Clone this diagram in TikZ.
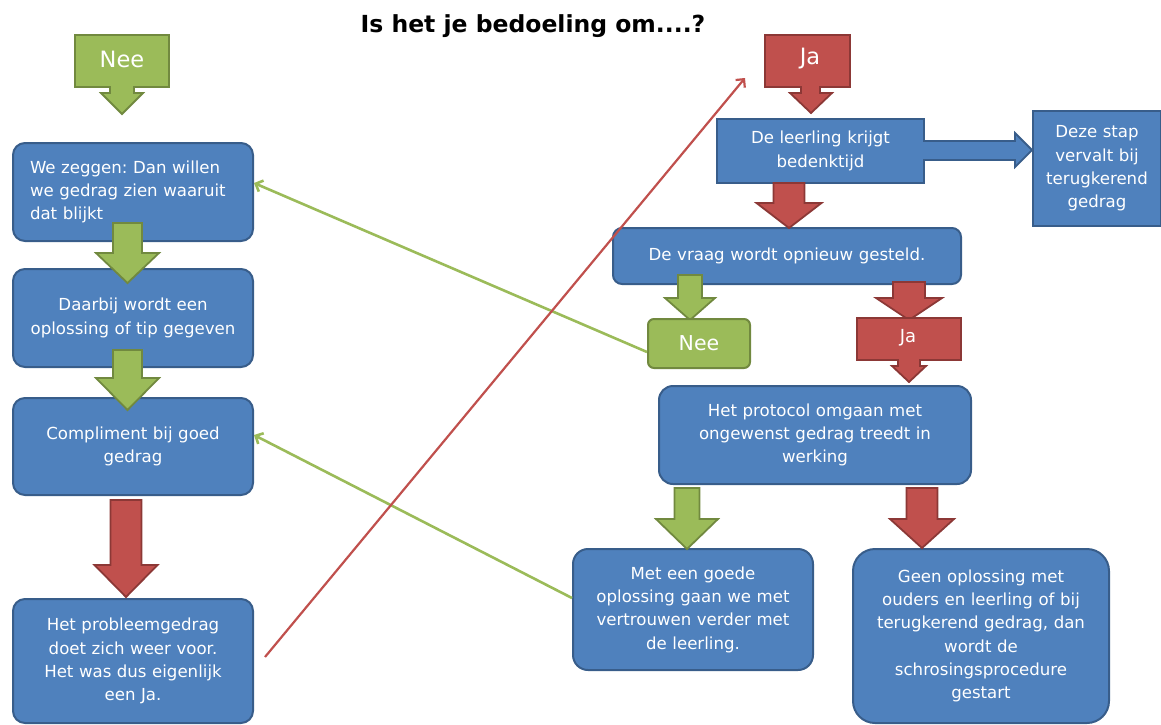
\documentclass[tikz,border=0pt]{standalone}
\usepackage{fontspec}
\setmainfont{DejaVu Sans}
\usetikzlibrary{arrows.meta,calc}
\definecolor{bfill}{HTML}{4F81BD}
\definecolor{bdraw}{HTML}{385D8A}
\definecolor{gfill}{HTML}{9BBB59}
\definecolor{gdraw}{HTML}{71893F}
\definecolor{rfill}{HTML}{C0504D}
\definecolor{rdraw}{HTML}{8C3836}
\newcommand\darr[7]{\path[#1] ({#2-#3},#5) -- ({#2+#3},#5) -- ({#2+#3},#6) -- ({#2+#4},#6) -- (#2,#7) -- ({#2-#4},#6) -- ({#2-#3},#6) -- cycle;}
\frenchspacing
\begin{document}
\begin{tikzpicture}[x=1pt,y=-1pt,
  box/.style={draw=bdraw, fill=bfill, line width=2pt, text=white, align=center, inner sep=0pt, anchor=north west, font=\fontsize{16.6}{23.3}\selectfont},
  rbox/.style={box, rounded corners=12pt},
  lbl/.style={text=white, inner sep=0pt},
  garr/.style={draw=gdraw, fill=gfill, line width=1.8pt},
  rarr/.style={draw=rdraw, fill=rfill, line width=1.8pt},
  gline/.style={draw=gfill, line width=2.6pt, -{Straight Barb[length=6pt,width=12pt]}},
  rline/.style={draw=rfill, line width=2.2pt, -{Straight Barb[length=6pt,width=12pt]}},
]
\useasboundingbox (0,0) rectangle (1161,724);

% title
\node[font=\bfseries\fontsize{23.5}{26}\selectfont, inner sep=0pt] (title) at (533,26) {Is het je bedoeling om....?};

% top callouts
\path[garr] (75,35) -- (169,35) -- (169,87) -- (134,87) -- (134,93) -- (143,93) -- (122,114) -- (101,93) -- (110,93) -- (110,87) -- (75,87) -- cycle;
\node[lbl, font=\fontsize{22.5}{26}\selectfont] (nee1) at (122,59) {Nee};
\path[rarr] (765,35) -- (850,35) -- (850,87) -- (820,87) -- (820,93) -- (832,93) -- (811,113) -- (790,93) -- (801,93) -- (801,87) -- (765,87) -- cycle;
\node[lbl, font=\fontsize{22.5}{26}\selectfont] (ja1) at (810,59) {Ja};

% left column boxes
\node[rbox, minimum width=240pt, minimum height=98pt, text width=206pt, align=left] (b1) at (12,142) {We zeggen: Dan willen\\we gedrag zien waaruit\\dat blijkt};
\node[rbox, minimum width=240pt, minimum height=98pt, text width=236pt] (b2) at (12,268) {Daarbij wordt een\\oplossing of tip gegeven\\[6pt]};
\node[rbox, minimum width=240pt, minimum height=97pt, text width=236pt] (b3) at (12,397) {Compliment bij goed\\gedrag\\[6pt]};
\node[rbox, minimum width=240pt, minimum height=124pt, text width=236pt] (b4) at (12,598) {Het probleemgedrag\\doet zich weer voor.\\Het was dus eigenlijk\\een Ja.};

% left block arrows
\darr{garr}{127.5}{14.5}{31.5}{223}{253}{283}
\darr{garr}{127.5}{14.5}{31.5}{350}{378}{410}
\darr{rarr}{126}{15.5}{31.5}{500}{565}{597}

% right side
\node[box, minimum width=207pt, minimum height=64pt, text width=200pt] (leer) at (716,118) {De leerling krijgt\\bedenktijd\\[4pt]};
\node[box, minimum width=128pt, minimum height=115pt, text width=126pt] (deze) at (1032,110) {Deze stap\\vervalt bij\\terugkerend\\gedrag\\[4pt]};
\path[fill=bfill] (917,142) rectangle (1016,159);
\path[fill=bfill] (1015,133) -- (1032,150) -- (1015,167) -- cycle;
\draw[bdraw, line width=1.8pt, line join=miter] (923,141) -- (1015,141) -- (1015,133) -- (1032,150) -- (1015,167) -- (1015,160) -- (923,160);

\node[box, rounded corners=9pt, minimum width=348pt, minimum height=56pt, text width=340pt] (vraag) at (612,227) {De vraag wordt opnieuw gesteld.\\[14pt]};
\darr{rarr}{789}{15.5}{32.5}{183}{203}{228}

\darr{garr}{690}{12}{25}{275}{298}{320}
\darr{rarr}{909}{16}{33}{282}{298}{320}
\node[box, draw=gdraw, fill=gfill, rounded corners=6pt, minimum width=102pt, minimum height=49pt, font=\fontsize{20.5}{24}\selectfont] (nee2) at (647,318) {Nee};
\path[rarr] (857,318) -- (961,318) -- (961,360) -- (920,360) -- (920,366) -- (926,366) -- (909,382) -- (892,366) -- (898,366) -- (898,360) -- (857,360) -- cycle;
\node[lbl, font=\fontsize{18}{21}\selectfont] (ja2) at (908,338) {Ja};

\node[box, rounded corners=14pt, minimum width=312pt, minimum height=98pt, text width=300pt] (prot) at (658,385) {Het protocol omgaan met\\ongewenst gedrag treedt in\\werking};

\node[box, rounded corners=15pt, minimum width=240pt, minimum height=121pt, text width=236pt] (met) at (572,548) {Met een goede\\oplossing gaan we met\\vertrouwen verder met\\de leerling.};
\node[box, rounded corners=22pt, minimum width=256pt, minimum height=174pt, text width=250pt] (geen) at (852,548) {Geen oplossing met\\ouders en leerling of bij\\terugkerend gedrag, dan\\wordt de\\schrosingsprocedure\\gestart};

\darr{garr}{687}{12.5}{31}{488}{519}{549}
\darr{rarr}{922}{15.5}{32}{488}{519}{548}

% connectors
\coordinate (rs) at (265,657);
\coordinate (re) at (745,78);
\draw[gline] ($(nee2.south west)+(0,-17)$) -- ($(b1.north east)+(0,41)$);
\draw[gline] ($(met.north west)+(0,50)$) -- ($(b3.north east)+(0,38)$);
\draw[rline] (rs) -- (re);
\end{tikzpicture}
\end{document}
